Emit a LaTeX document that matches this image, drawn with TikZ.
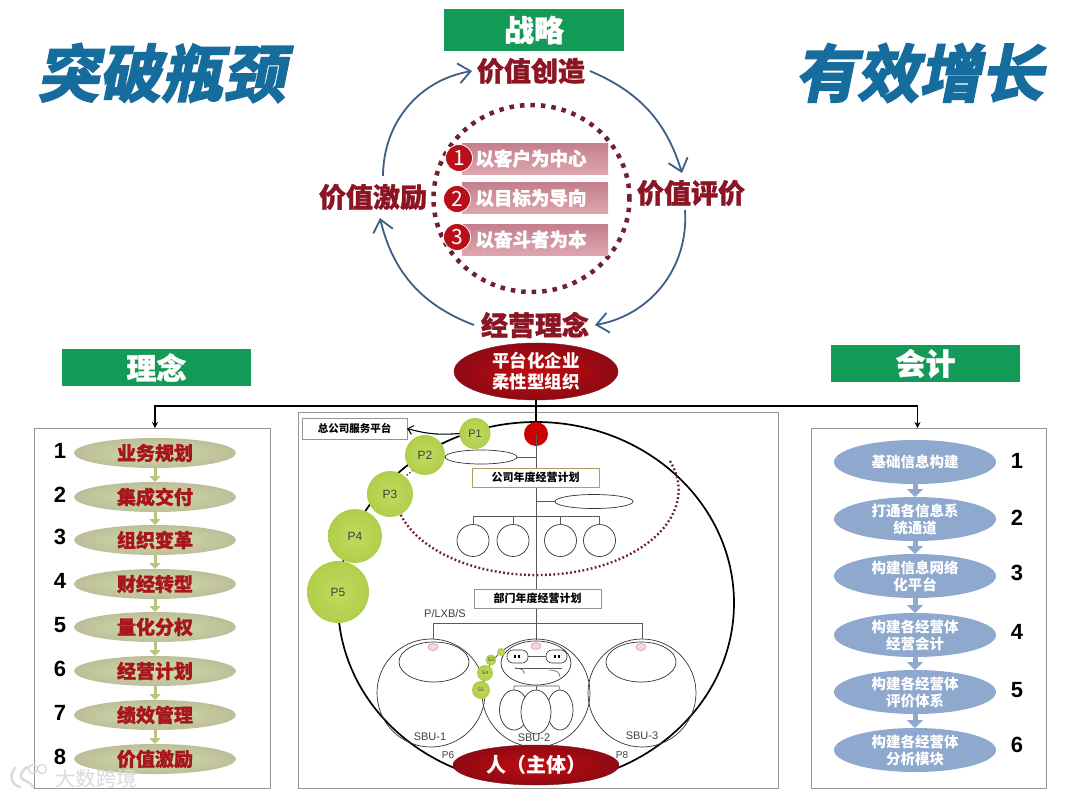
\documentclass[tikz,border=0pt]{standalone}
\usepackage{fontspec}
\setmainfont{Noto Sans CJK SC}
\newfontfamily\latinf{Liberation Sans}
\newfontfamily\titlef{Noto Sans CJK SC}[FakeSlant=0.2,FakeBold=3.2,BoldFont={Noto Sans CJK SC Bold}]
\newfontfamily\heavyf{Noto Sans CJK SC}[FakeBold=1.2]
\usetikzlibrary{arrows.meta,shapes.geometric,calc}
\definecolor{greenbar}{HTML}{149A57}
\definecolor{titleblue}{HTML}{176C9E}
\definecolor{wine}{HTML}{8C1523}
\definecolor{ringblue}{HTML}{3D5F85}
\definecolor{dotwine}{HTML}{70202F}
\definecolor{applegreen}{HTML}{B0CE4A}
\definecolor{panelline}{HTML}{959595}
\definecolor{olive}{HTML}{B9C47E}
\definecolor{steel}{HTML}{8EA8CE}
\definecolor{crimson}{HTML}{B80F18}
\definecolor{barTop}{HTML}{C47F8C}\definecolor{barBot}{HTML}{DDA6AE}
\definecolor{ellIn}{HTML}{CFDEAC}\definecolor{ellOut}{HTML}{BDBE98}
\definecolor{listRed}{HTML}{A8161C}\definecolor{ballIn}{HTML}{C2DA60}
\definecolor{pinkLine}{HTML}{D79AA0}\definecolor{pinkFill}{HTML}{F4DADB}
\definecolor{redIn}{HTML}{C40A10}\definecolor{redOut}{HTML}{8E0A14}
\definecolor{wmGray}{HTML}{DADADA}\definecolor{tan}{HTML}{B39A6A}
\tikzset{
  every node/.style={inner sep=0,outer sep=0},
  header/.style={fill=greenbar,text=white,minimum height=#1,font=\heavyf\fontsize{30}{30}\selectfont\bfseries},
  bigtitle/.style={text=titleblue,font=\titlef\fontsize{62}{62}\selectfont\bfseries},
  ringlabel/.style={text=wine,font=\heavyf\fontsize{27}{27}\selectfont\bfseries},
  ringarrow/.style={draw=ringblue,line width=1.8pt,-{Straight Barb[length=12pt,width=20pt,line width=1.8pt]}},
  pinkbar/.style={top color=barTop,bottom color=barBot,text=white,minimum width=146pt,minimum height=31pt,font=\heavyf\fontsize{18.5}{18.5}\selectfont\bfseries,anchor=west},
  badge/.style={circle,fill=crimson,draw=white,line width=0.8pt,minimum size=27pt,text=white,font=\fontsize{21}{21}\selectfont},
  panelbox/.style={draw=panelline,line width=0.8pt,fill=white,anchor=north west},
  oliveell/.style={ellipse,inner sep=-14pt,minimum width=162pt,minimum height=30pt,inner color=ellIn,outer color=ellOut,text=listRed,font=\heavyf\fontsize{19}{19}\selectfont\bfseries},
  steelell/.style={ellipse,inner sep=-16pt,fill=steel,minimum width=162pt,minimum height=44pt,text=white,align=center,font=\fontsize{14.5}{17}\selectfont\bfseries},
  listnum/.style={text=black,font=\latinf\fontsize{22}{22}\selectfont\bfseries},
  olivearrow/.style={draw=olive,line width=3pt,-{Triangle[length=6pt,width=11pt]}},
  steelarrow/.style={draw=steel,line width=5pt,-{Triangle[length=8pt,width=16pt]}},
  link/.style={draw=black,line width=1.2pt,-{Stealth[length=6pt,width=6pt]}},
  thinline/.style={draw=black!65,line width=0.6pt},
  pball/.style={circle,inner color=ballIn,outer color=applegreen,text=black!75,font=\latinf\fontsize{#1}{#1}\selectfont},
  openell/.style={ellipse,draw=black!80,line width=0.7pt,inner sep=0},
  planbox/.style={draw=#1,line width=0.8pt,minimum height=19pt,minimum width=127pt,fill=white,text=black,font=\fontsize{11}{11}\selectfont\bfseries},
  smalllabel/.style={text=black!75,font=\latinf\fontsize{11}{11}\selectfont},
  pinkdot/.style={ellipse,draw=pinkLine,fill=pinkFill,line width=0.6pt,minimum width=10pt,minimum height=7pt},
  redell/.style={ellipse,inner sep=-16pt,inner color=redIn,outer color=redOut,draw=redOut,text=white,align=center},
  watermark/.style={text=wmGray,font=\fontsize{20.5}{20.5}\selectfont},
}
\begin{document}
\begin{tikzpicture}[x=1pt,y=-1pt]
\useasboundingbox (0,0) rectangle (1080,796);
\fill[white] (0,0) rectangle (1080,796);
% titles
\node[bigtitle] (tl) at (161,73) {突破瓶颈};
\node[bigtitle] (tr) at (919,73) {有效增长};
\node[header=42pt,minimum width=180pt] (h1) at (534,30) {战略};
\node[header=37pt,minimum width=189pt] (h2) at (156.5,367.5) {理念};
\node[header=37pt,minimum width=189pt] (h3) at (925.5,363.5) {会计};
% ring
\node[ringlabel] (create) at (531,71) {价值创造};
\node[ringlabel] (evalu) at (691,193) {价值评价};
\node[ringlabel] (motiv) at (373,197) {价值激励};
\node[ringlabel] (idea) at (535,325) {经营理念};
\draw[ringarrow] ([xshift=5pt]create.east) to[bend left=25] ([xshift=-9pt,yshift=7pt]evalu.north);
\draw[ringarrow] ([xshift=-6pt,yshift=-4pt]evalu.south) to[bend left=42] ([xshift=6pt]idea.east);
\draw[ringarrow] ([xshift=-7pt]idea.west) to[bend left=28] ([xshift=7pt,yshift=-8pt]motiv.south);
\draw[ringarrow] ([xshift=10pt,yshift=8pt]motiv.north) to[bend left=40] ([xshift=-5pt]create.west);
\node[ellipse,draw=dotwine,line width=4.5pt,dash pattern=on 4.5pt off 6pt,minimum width=196pt,minimum height=187pt] (ring) at (531.5,198.5) {};
\node[pinkbar] (b1) at (462,158.5) {\hspace*{-8pt}以客户为中心};
\node[pinkbar] (b2) at (462,198) {\hspace*{-8pt}以目标为导向};
\node[pinkbar] (b3) at (462,239.5) {\hspace*{-8pt}以奋斗者为本};
\node[badge] (n1) at (459,158) {1};
\node[badge] (n2) at (457,199) {2};
\node[badge] (n3) at (457,237) {3};
% org ellipse and links
\node[redell,minimum width=164pt,minimum height=57pt,font=\fontsize{17.5}{21}\selectfont\bfseries] (org) at (536,371.5) {平台化企业\\柔性型组织};
\node[panelbox,minimum width=236pt,minimum height=360pt] (lp) at (34,428) {};
\node[panelbox,minimum width=235pt,minimum height=360pt] (rp) at (811,428) {};
\node[panelbox,minimum width=480pt,minimum height=376pt] (cp) at (298,412) {};
\coordinate (hub) at (536,406);
\draw[line width=1.2pt] (org.south) -- (hub);
\draw[link] (hub) -| ([xshift=3pt]lp.north);
\draw[link] (hub) -| ([xshift=-11pt]rp.north);
% left list
\foreach \i/\t/\y/\ny in {1/业务规划/453/451,2/集成交付/497/495,3/组织变革/540/537,4/财经转型/584/581,5/量化分权/627/625,6/经营计划/671/669,7/绩效管理/715/713,8/价值激励/759/757}{
  \node[oliveell] (l\i) at (155,\y) {\t};
  \node[listnum] (ln\i) at (60,\ny) {\i};
}
\foreach \a/\b in {1/2,2/3,3/4,4/5,5/6,6/7,7/8}{\draw[olivearrow] (l\a.south) -- (l\b.north);}
% right list
\foreach \i/\t/\y/\ny in {1/基础信息构建/462/461,2/{打通各信息系\\统通道}/519/518,3/{构建信息网络\\化平台}/576/573,4/{构建各经营体\\经营会计}/635/632,5/{构建各经营体\\评价体系}/692/690,6/{构建各经营体\\分析模块}/750/745}{
  \node[steelell] (r\i) at (915,\y) {\t};
  \node[listnum] (rn\i) at (1017,\ny) {\i};
}
\foreach \a/\b in {1/2,2/3,3/4,4/5,5/6}{\draw[steelarrow] (r\a.south) -- (r\b.north);}
% centre plan
\node[ellipse,draw=black,line width=1.7pt,minimum width=396pt,minimum height=362pt] (world) at (536,603) {};
\draw[draw=dotwine,line width=2.4pt,dash pattern=on 1.8pt off 2.4pt] (670,461) arc[start angle=-20,end angle=165,x radius=142,y radius=85];
\draw[draw=dotwine,line width=1.4pt,dash pattern=on 1.4pt off 2pt] (413,470) -- (406,476);
\node[circle,fill=red!80!black,minimum size=24pt] (hubdot) at (536,434) {};
\draw[line width=2pt] (hub) -- (hubdot.north);
\coordinate (spineend) at (536,640);
\draw[thinline] (hubdot.center) -- (spineend);
% plan boxes
\node[planbox=panelline,minimum width=105pt,minimum height=21pt,font=\fontsize{10.5}{11}\selectfont\bfseries] (svc) at (354.5,428.5) {总公司服务平台};
\node[planbox=tan] (plan1) at (535.5,477.5) {公司年度经营计划};
\node[planbox=panelline] (plan2) at (537.5,598.5) {部门年度经营计划};
% green P chain
\node[pball=11,minimum size=31pt] (p1) at (475,433.5) {P1};
\node[pball=12,minimum size=40pt] (p2) at (425,455) {P2};
\node[pball=12,minimum size=46pt] (p3) at (390,494) {P3};
\node[pball=12,minimum size=54pt] (p4) at (355,536) {P4};
\node[pball=12,minimum size=62pt] (p5) at (338,592) {P5};
\draw[line width=1.1pt,-{Straight Barb[length=5pt,width=9pt,line width=1.1pt]}] (p1.west) to[bend left=10] (svc.east);
% upper org
\node[openell,minimum width=72pt,minimum height=14pt] (e1) at (481,457) {};
\node[openell,minimum width=78pt,minimum height=14pt] (e2) at (594,501.5) {};
\draw[thinline] (e1.east) -- (536,457);
\draw[thinline] (536,501.5) -- (e2.west);
\foreach \i/\x in {1/473,2/513,3/560.5,4/599.5}{
  \node[openell,circle,minimum size=32pt] (c\i) at (\x,540.5) {};
  \draw[thinline] (\x,516) -- (c\i.north);
}
\draw[thinline] (473,516) -- (599.5,516);
% SBU
\node[smalllabel,anchor=center] (plx) at (445,614) {P/LXB/S};
\node[openell,circle,minimum size=108pt] (s1) at (431,693) {};
\node[openell,circle,minimum size=108pt] (s2) at (536,693) {};
\node[openell,circle,minimum size=108pt] (s3) at (642,693) {};
\coordinate (busl) at (433,623);
\coordinate (busr) at (642,623);
\draw[thinline] ([xshift=2pt]s1.north) -- (busl) -- (busr) -- (s3.north);
\node[openell,minimum width=70pt,minimum height=40pt] (i1) at (434,662) {};
\node[openell,minimum width=70pt,minimum height=44pt] (i2) at (536,663) {};
\node[openell,minimum width=70pt,minimum height=40pt] (i3) at (641,662) {};
\node[pinkdot] (d1) at (433,647) {};
\node[pinkdot] (d2) at (536,646) {};
\node[pinkdot] (d3) at (641,647) {};
\node[rectangle,rounded corners=6pt,draw=black!80,line width=0.6pt,minimum width=21pt,minimum height=13pt] (ov1) at (517.5,656.5) {};
\node[rectangle,rounded corners=6pt,draw=black!80,line width=0.6pt,minimum width=21pt,minimum height=13pt] (ov2) at (556.5,656.5) {};
\draw[thinline] (ov1.east) -- (ov2.west);
\foreach \x in {515,519,555,559}{\fill (\x-1.3,654.8) rectangle (\x+1.3,658.2);}
\draw[thinline] (515,668) -- (562,668);
\draw[thinline] (515,668) .. controls (522,668) and (525,671) .. (524,674);
\draw[thinline] (549,670) .. controls (556,670) and (560,672) .. (560,677);
\node[openell,minimum width=29pt,minimum height=40pt] (g1) at (514,710) {};
\node[openell,minimum width=26pt,minimum height=40pt] (g3) at (560,710) {};
\node[openell,minimum width=30pt,minimum height=44pt,fill=white] (g2) at (536,712) {};
\draw[thinline] (g1.north) -- (514,686) -- (559,686) -- (g3.north);
\draw[thinline] (536,686) -- (g2.north);
\node[smalllabel] (sb1) at (430,737) {SBU-1};
\node[smalllabel] (sb2) at (534,738) {SBU-2};
\node[smalllabel] (sb3) at (642,736) {SBU-3};
\node[smalllabel,font=\latinf\fontsize{10}{10}\selectfont] (p6) at (448,755) {P6};
\node[smalllabel,font=\latinf\fontsize{10}{10}\selectfont] (p8) at (622,755) {P8};
\node[pball=5,minimum size=8pt] (q1) at (501,652) {};
\node[pball=5,minimum size=11pt] (q2) at (491,660) {S3};
\node[pball=5,minimum size=16pt] (q3) at (485,673) {S4};
\node[pball=5,minimum size=18pt] (q4) at (481,690) {S5};
\node[redell,minimum width=166pt,minimum height=40pt,font=\fontsize{20}{20}\selectfont\bfseries] (person) at (536,765) {人（主体）};
% watermark
\begin{scope}[draw=wmGray,line width=2.5pt,line cap=round]
\draw (15,768) .. controls (9,775) and (11,785) .. (20,787);
\draw (27,767) .. controls (20,772) and (19,778) .. (24,780) .. controls (28,782) and (32,784) .. (33,787);
\draw[line width=1.4pt] (33,769) circle[radius=4.5];
\draw[line width=1.4pt] (42,769) circle[radius=4.5];
\end{scope}
\node[watermark] (wm) at (96,779) {大数跨境};
\end{tikzpicture}
\end{document}
